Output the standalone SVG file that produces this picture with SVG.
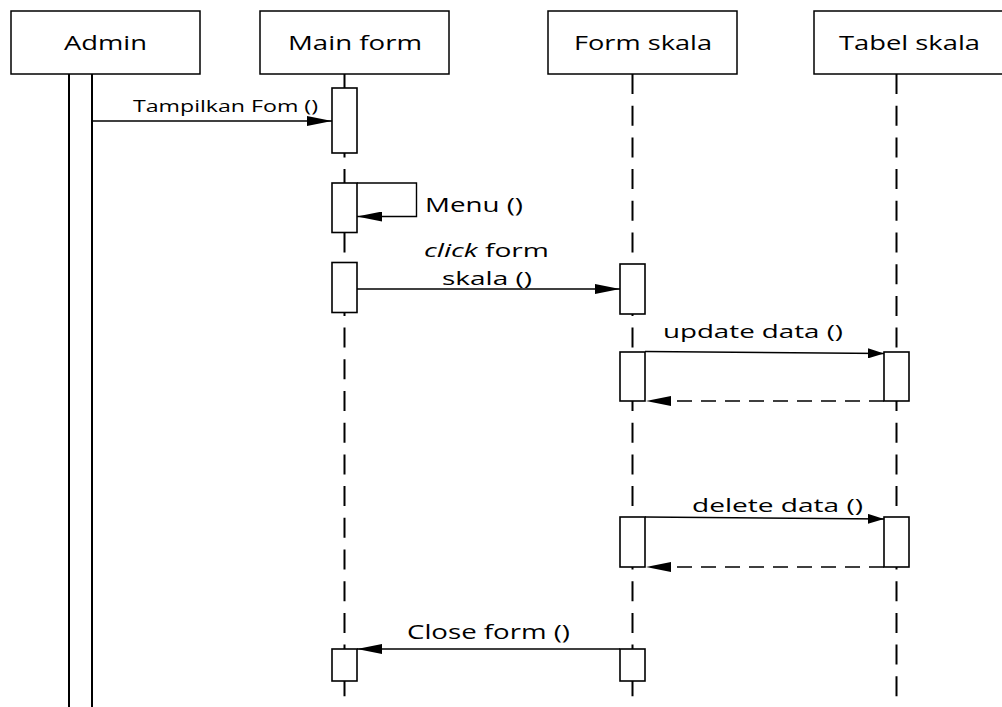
<svg xmlns="http://www.w3.org/2000/svg" width="1002" height="707" viewBox="0 0 1002 707">
<style>
.hdr{fill:#fff;stroke:#000;stroke-width:1.5}
.act{fill:#fff;stroke:#000;stroke-width:1.6}
.life{stroke:#000;stroke-width:2;stroke-dasharray:20 11.7;fill:none}
.msg{stroke:#000;stroke-width:1.4;fill:none}
.ret{stroke:#000;stroke-width:1.4;fill:none;stroke-dasharray:15 9}
text{font-family:"Open Sans","Noto Sans","DejaVu Sans",sans-serif;fill:#000}
.t20{font-size:20px}
.t18{font-size:18px}
.t17{font-size:17px}
</style>
<defs>
<marker id="ah" markerUnits="userSpaceOnUse" markerWidth="25" markerHeight="10" viewBox="0 0 25 10" refX="25" refY="5" orient="auto">
<path d="M0,0 L25,5 L0,10 Z" fill="#000"/>
</marker>
<marker id="ahs" markerUnits="userSpaceOnUse" markerWidth="16" markerHeight="10" viewBox="0 0 16 10" refX="16" refY="5" orient="auto">
<path d="M0,0 L16,5 L0,10 Z" fill="#000"/>
</marker>
</defs>

<g id="admin">
<rect class="hdr" x="11" y="11" width="189" height="63"/>
<text class="t20" x="64" y="50" textLength="83" lengthAdjust="spacingAndGlyphs">Admin</text>
<line x1="69" y1="74" x2="69" y2="707" stroke="#000" stroke-width="2"/>
<line x1="92" y1="74" x2="92" y2="707" stroke="#000" stroke-width="2"/>
</g>

<g id="main-form">
<rect class="hdr" x="260" y="11" width="189" height="63"/>
<text class="t20" x="288" y="50" textLength="134" lengthAdjust="spacingAndGlyphs">Main form</text>
<line class="life" x1="344.5" y1="74" x2="344.5" y2="699"/>
<rect class="act" x="332" y="88" width="25" height="65"/>
<rect class="act" x="332" y="183" width="25" height="49.5"/>
<rect class="act" x="332" y="262.5" width="25" height="50"/>
<rect class="act" x="332" y="649" width="25" height="32"/>
</g>

<g id="form-skala">
<rect class="hdr" x="548" y="11" width="189" height="63"/>
<text class="t20" x="574" y="50" textLength="138" lengthAdjust="spacingAndGlyphs">Form skala</text>
<line class="life" x1="632.5" y1="74" x2="632.5" y2="699"/>
<rect class="act" x="620" y="264" width="25" height="50"/>
<rect class="act" x="620" y="352" width="25" height="49"/>
<rect class="act" x="620" y="517" width="25" height="50"/>
<rect class="act" x="620" y="649" width="25" height="32"/>
</g>

<g id="tabel-skala">
<rect class="hdr" x="814" y="11" width="190" height="63"/>
<text class="t20" x="839" y="50" textLength="141" lengthAdjust="spacingAndGlyphs">Tabel skala</text>
<line class="life" x1="896.5" y1="74" x2="896.5" y2="699"/>
<rect class="act" x="884" y="352" width="25" height="49"/>
<rect class="act" x="884" y="517" width="25" height="50"/>
</g>

<g id="connectors">
<line class="msg" x1="92" y1="121" x2="332" y2="121" marker-end="url(#ah)"/>
<text class="t17" x="133" y="112" textLength="185" lengthAdjust="spacingAndGlyphs">Tampilkan Fom ()</text>

<path class="msg" d="M357,183 H416.5 V216.5 H357" marker-end="url(#ah)"/>
<text class="t20" x="425" y="212" textLength="98" lengthAdjust="spacingAndGlyphs">Menu ()</text>

<line class="msg" x1="357" y1="289" x2="620" y2="289" marker-end="url(#ah)"/>
<text class="t18" x="424" y="257" textLength="125" lengthAdjust="spacingAndGlyphs"><tspan font-style="italic">click</tspan> form</text>
<text class="t18" x="442" y="285" textLength="90" lengthAdjust="spacingAndGlyphs">skala ()</text>

<line class="msg" x1="645" y1="351.5" x2="884" y2="353.5" marker-end="url(#ahs)"/>
<text class="t18" x="663" y="338" textLength="180" lengthAdjust="spacingAndGlyphs">update data ()</text>
<line class="ret" x1="884" y1="401" x2="646" y2="401" marker-end="url(#ah)"/>

<line class="msg" x1="645" y1="517" x2="884" y2="519" marker-end="url(#ahs)"/>
<text class="t18" x="692" y="512" textLength="171" lengthAdjust="spacingAndGlyphs">delete data ()</text>
<line class="ret" x1="884" y1="567" x2="646" y2="567" marker-end="url(#ah)"/>

<line class="msg" x1="620" y1="649" x2="357" y2="649" marker-end="url(#ah)"/>
<text class="t20" x="407" y="639" textLength="163" lengthAdjust="spacingAndGlyphs">Close form ()</text>
</g>
</svg>
